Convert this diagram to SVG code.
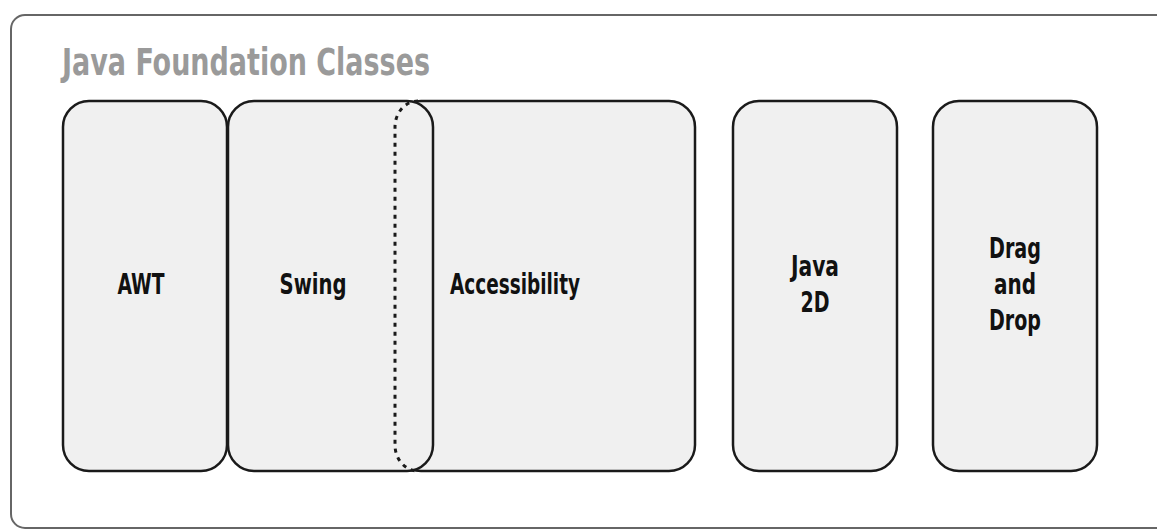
<svg xmlns="http://www.w3.org/2000/svg" width="1157" height="530" viewBox="0 0 1157 530">
<style>
.box{fill:#f0f0f0;stroke:#1a1a1a;stroke-width:2.5}
.lbl{font-family:"Liberation Sans Narrow","DejaVu Sans Condensed","Liberation Sans",sans-serif;font-stretch:condensed;font-weight:bold;font-size:29px;fill:#111;text-anchor:middle}
.title{font-family:"Liberation Sans Narrow","DejaVu Sans Condensed","Liberation Sans",sans-serif;font-stretch:condensed;font-weight:bold;font-size:37px;fill:#9a9a9a}
</style>
<rect x="0" y="0" width="1157" height="530" fill="#fff"/>
<g id="jfc">
<rect x="11" y="15" width="1180" height="513" rx="14" fill="#fff" stroke="#666" stroke-width="2"/>
<text class="title" x="62" y="75" textLength="368" lengthAdjust="spacingAndGlyphs">Java Foundation Classes</text>
</g>
<g id="awt">
<rect class="box" x="63" y="101" width="164" height="370" rx="26"/>
<text class="lbl" x="141" y="294" textLength="47" lengthAdjust="spacingAndGlyphs">AWT</text>
</g>
<g id="accessibility">
<rect class="box" x="395" y="101" width="300" height="370" rx="26"/>
</g>
<g id="swing">
<rect class="box" x="228" y="101" width="205" height="370" rx="26"/>
<text class="lbl" x="313" y="294" textLength="67" lengthAdjust="spacingAndGlyphs">Swing</text>
</g>
<g id="accessibility-overlap">
<path d="M418 101 A 23 26 0 0 0 395 127 L395 445 A 23 26 0 0 0 418 471" fill="none" stroke="#1a1a1a" stroke-width="3" stroke-dasharray="4 5"/>
<text class="lbl" x="515" y="294" textLength="130" lengthAdjust="spacingAndGlyphs">Accessibility</text>
</g>
<g id="java2d">
<rect class="box" x="733" y="101" width="164" height="370" rx="26"/>
<text class="lbl" x="815" y="276" textLength="48" lengthAdjust="spacingAndGlyphs">Java</text>
<text class="lbl" x="815" y="312" textLength="29" lengthAdjust="spacingAndGlyphs">2D</text>
</g>
<g id="dnd">
<rect class="box" x="933" y="101" width="164" height="370" rx="26"/>
<text class="lbl" x="1015" y="258" textLength="52" lengthAdjust="spacingAndGlyphs">Drag</text>
<text class="lbl" x="1015" y="294" textLength="42" lengthAdjust="spacingAndGlyphs">and</text>
<text class="lbl" x="1015" y="330" textLength="52" lengthAdjust="spacingAndGlyphs">Drop</text>
</g>
<g id="connectors"></g>
</svg>
